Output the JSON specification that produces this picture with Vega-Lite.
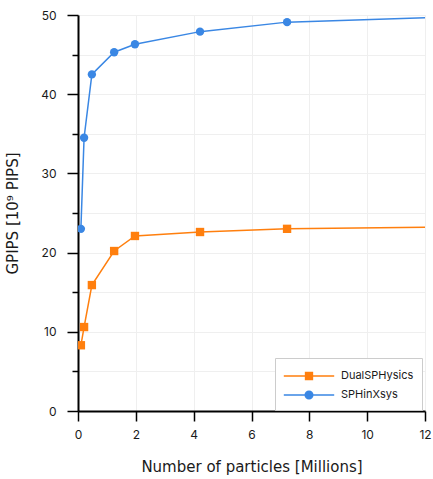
{
  "$schema": "https://vega.github.io/schema/vega-lite/v6.json",
  "width": 347,
  "height": 396,
  "autosize": {"type": "none"},
  "padding": {"left": 78, "top": 15, "right": 8, "bottom": 68},
  "config": {
    "font": "Inter",
    "view": {"stroke": null},
    "axis": {
      "domainColor": "#000",
      "domainWidth": 2,
      "tickColor": "#000",
      "tickWidth": 1.5,
      "labelColor": "#1a1a1a",
      "labelFontSize": 12,
      "labelFontWeight": "normal",
      "labelFlush": false,
      "titleColor": "#1a1a1a",
      "titleFont": "DejaVu Sans",
      "titleFontSize": 15,
      "titleFontWeight": "normal",
      "gridColor": "#efefef",
      "gridWidth": 1
    }
  },
  "data": {
    "values": [
      {"code": "SPHinXsys", "particles": 0.1, "gpips": 23.0},
      {"code": "SPHinXsys", "particles": 0.21, "gpips": 34.5},
      {"code": "SPHinXsys", "particles": 0.48, "gpips": 42.5},
      {"code": "SPHinXsys", "particles": 1.25, "gpips": 45.3},
      {"code": "SPHinXsys", "particles": 1.97, "gpips": 46.3},
      {"code": "SPHinXsys", "particles": 4.22, "gpips": 47.9},
      {"code": "SPHinXsys", "particles": 7.23, "gpips": 49.1},
      {"code": "SPHinXsys", "particles": 16.0, "gpips": 50.1},
      {"code": "DualSPHysics", "particles": 0.1, "gpips": 8.3},
      {"code": "DualSPHysics", "particles": 0.21, "gpips": 10.6},
      {"code": "DualSPHysics", "particles": 0.48, "gpips": 15.9},
      {"code": "DualSPHysics", "particles": 1.25, "gpips": 20.2},
      {"code": "DualSPHysics", "particles": 1.97, "gpips": 22.1},
      {"code": "DualSPHysics", "particles": 4.22, "gpips": 22.6},
      {"code": "DualSPHysics", "particles": 7.23, "gpips": 23.0},
      {"code": "DualSPHysics", "particles": 16.0, "gpips": 23.37}
    ]
  },
  "encoding": {
    "x": {
      "field": "particles",
      "type": "quantitative",
      "scale": {"domain": [0, 12], "nice": false, "zero": false},
      "axis": {
        "title": "Number of particles [Millions]",
        "values": [0, 2, 4, 6, 8, 10, 12],
        "tickSize": 10,
        "labelPadding": 8,
        "titlePadding": 19,
        "grid": true
      }
    },
    "y": {
      "field": "gpips",
      "type": "quantitative",
      "scale": {"domain": [0, 50], "nice": false},
      "axis": {
        "title": "GPIPS [10⁹ PIPS]",
        "values": [0, 5, 10, 15, 20, 25, 30, 35, 40, 45, 50],
        "labelExpr": "datum.value % 10 === 0 ? datum.label : ''",
        "tickSize": {"condition": {"test": "datum.value % 10 === 0", "value": 11}, "value": 6},
        "labelPadding": 11,
        "titlePadding": 20,
        "grid": true
      }
    },
    "color": {
      "field": "code",
      "type": "nominal",
      "scale": {"domain": ["DualSPHysics", "SPHinXsys"], "range": ["#ff7f0e", "#3a87e4"]},
      "legend": {
        "title": null,
        "orient": "none",
        "legendX": 197,
        "legendY": 343,
        "strokeColor": "#cccccc",
        "fillColor": "#ffffff",
        "padding": 8,
        "symbolSize": 324,
        "symbolStrokeWidth": 1.5,
        "symbolOffset": 16,
        "labelOffset": 22,
        "labelFontSize": 11,
        "labelColor": "#1a1a1a",
        "rowPadding": 2,
        "encode": {
          "symbols": {
            "update": {
              "shape": {"signal": "datum.value === 'DualSPHysics' ? 'M-2.8,0H2.8M-0.38,-0.38H0.38V0.38H-0.38Z' : 'M-2.8,0H2.8M-0.42,0A0.42,0.42,0,1,0,0.42,0A0.42,0.42,0,1,0,-0.42,0Z'"},
              "fill": {"scale": "color", "field": "value"},
              "stroke": {"scale": "color", "field": "value"},
              "fillOpacity": {"value": 1},
              "strokeOpacity": {"value": 1}
            }
          }
        }
      }
    }
  },
  "layer": [
    {"mark": {"type": "line", "strokeWidth": 1.5, "clip": true}},
    {
      "mark": {"type": "point", "filled": true, "size": 70, "opacity": 1, "clip": true},
      "encoding": {
        "shape": {"condition": {"test": "datum.code === 'DualSPHysics'", "value": "square"}, "value": "circle"}
      }
    }
  ]
}
